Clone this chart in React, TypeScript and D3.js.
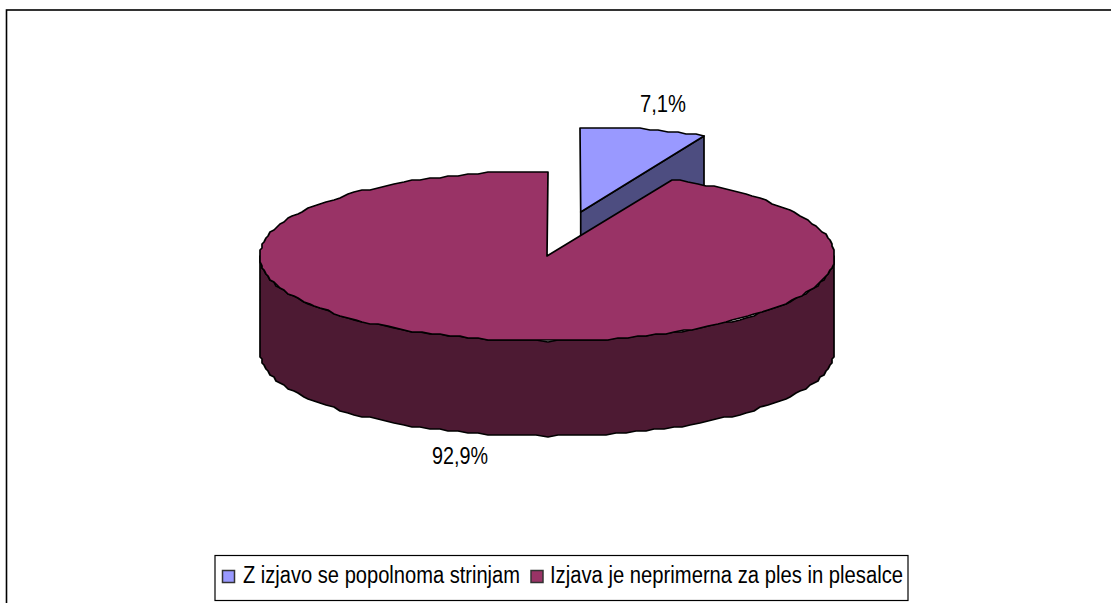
import React from "react";
import * as d3 from "d3";

const categories = ["Z izjavo se popolnoma strinjam", "Izjava je neprimerna za ples in plesalce"];
const values = [7.1, 92.9];
const valueLabels = ["7,1%", "92,9%"];
const topColors = ["#9999ff", "#993366"];
const sideColors = ["#4d4d80", "#4d1a33"];

const W = 1111;
const H = 603;
const cx = 547;
const cy = 256;
const rx = 287.5;
const ry = 85;
const depth = 95;
const explode = 0.53;

// angle 0 is straight up, clockwise
const px = d3.scaleLinear().domain([-1, 1]).range([cx - rx, cx + rx]);
const py = d3.scaleLinear().domain([-1, 1]).range([cy + ry, cy - ry]);

const line = d3.line<[number, number]>();

function rimPoints(a0: number, a1: number, dx = 0, dy = 0): [number, number][] {
  const n = Math.max(2, Math.ceil((a1 - a0) / 0.035));
  return d3.range(n + 1).map((i) => {
    const a = a0 + ((a1 - a0) * i) / n;
    const x = px(Math.sin(a)) + dx;
    const y = py(Math.cos(a)) + dy;
    // the original outline is stepped, not smooth
    return [Math.round(x / 2) * 2, Math.round(y / 2) * 2] as [number, number];
  });
}

export default function App() {
  const arcs = d3
    .pie<number>()
    .sort(null)
    .value((d) => d)(values);

  const a = arcs[0];
  const mid = (a.startAngle + a.endAngle) / 2;
  const dx = px(Math.sin(mid) * explode) - cx;
  const dy = py(Math.cos(mid) * explode) - cy;

  const b = arcs[1];

  // small exploded slice
  const aRim = rimPoints(a.startAngle, a.endAngle, dx, dy);
  const aApex: [number, number] = [cx + dx, cy + dy];
  const aEnd = aRim[aRim.length - 1];
  const aTop = line([aApex, ...aRim])! + "Z";
  const aSide =
    line([aApex, aEnd, [aEnd[0], aEnd[1] + depth], [aApex[0], aApex[1] + depth]])! + "Z";

  // big slice
  const bRim = rimPoints(b.startAngle, b.endAngle);
  const bTop = line([[cx, cy], ...bRim])! + "Z";
  const front = rimPoints(Math.PI / 2, (3 * Math.PI) / 2);
  const bSide = line([...front, ...front.slice().reverse().map(([x, y]) => [x, y + depth] as [number, number])])! + "Z";

  const edge = { stroke: "#000", strokeWidth: 1.7, strokeLinejoin: "round" as const };

  return (
    <svg
      width={W}
      height={H}
      style={{ position: "absolute", left: 0, top: 0, background: "#fff", fontFamily: "'Liberation Sans', Arial, sans-serif" }}
    >
      <rect x={6.5} y={10} width={W + 10} height={H + 10} fill="#fff" stroke="#000" strokeWidth={1.6} />

      <path d={aSide} fill={sideColors[0]} {...edge} />
      <path d={aTop} fill={topColors[0]} {...edge} />
      <path d={bSide} fill={sideColors[1]} {...edge} />
      <path d={bTop} fill={topColors[1]} {...edge} />

      <text x={640} y={112} fontSize={23} textLength={46} lengthAdjust="spacingAndGlyphs" fill="#000">{valueLabels[0]}</text>
      <text x={432} y={464} fontSize={23} textLength={56} lengthAdjust="spacingAndGlyphs" fill="#000">{valueLabels[1]}</text>

      <rect x={215} y={555.5} width={693} height={45} fill="#fff" stroke="#000" strokeWidth={1.2} />
      <rect x={222.5} y={570.5} width={12} height={12} fill={topColors[0]} stroke="#333" strokeWidth={1.5} />
      <text x={243} y={583} fontSize={23} textLength={277} lengthAdjust="spacingAndGlyphs" fill="#000">{categories[0]}</text>
      <rect x={531} y={570.5} width={12} height={12} fill={topColors[1]} stroke="#333" strokeWidth={1.5} />
      <text x={550} y={583} fontSize={23} textLength={353} lengthAdjust="spacingAndGlyphs" fill="#000">{categories[1]}</text>
    </svg>
  );
}
